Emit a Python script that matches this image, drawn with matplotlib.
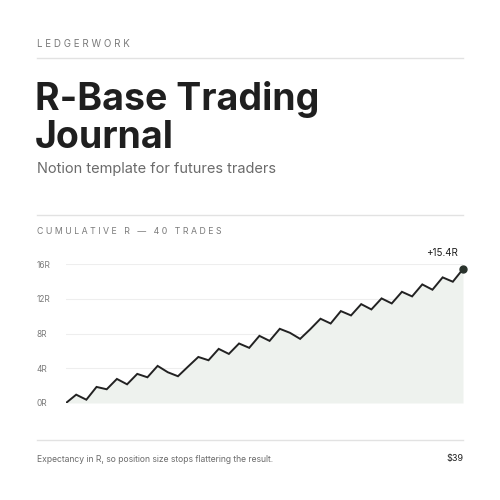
import matplotlib
matplotlib.use("Agg")
import matplotlib.pyplot as plt
from matplotlib.lines import Line2D

trades = list(range(40))
cum_r = [0, 0.96, 0.38, 1.85, 1.58, 2.77, 2.15, 3.35, 2.96, 4.27, 3.54, 3.08, 4.2, 5.3,
         4.92, 6.23, 5.65, 6.85, 6.35, 7.73, 7.15, 8.54, 8.08, 7.38, 8.5, 9.7, 9.15,
         10.58, 10.08, 11.38, 10.77, 12.04, 11.46, 12.8, 12.27, 13.65, 13.04, 14.46,
         13.96, 15.42]
yticks = [0, 4, 8, 12, 16]
ylabels = ["0R", "4R", "8R", "12R", "16R"]

plt.rcParams['font.family'] = ['Inter', 'DejaVu Sans']
fig = plt.figure(figsize=(5, 5), dpi=100)
fig.patch.set_facecolor("white")

def fx(px): return px / 500
def fy(py): return 1 - py / 500

dark = "#1f1f1f"
grey = "#6b6b6b"
rule = "#e2e2e2"

fig.text(fx(37), fy(44), "L E D G E R W O R K", fontsize=7, color="#7a7a7a", va="center")
for yy in (58, 215, 440):
    fig.add_artist(Line2D([fx(37), fx(463)], [fy(yy), fy(yy)], color=rule, lw=1))
fig.text(fx(35), fy(100), "R-Base Trading", fontsize=27, fontweight="bold", color=dark, va="center")
fig.text(fx(35), fy(138), "Journal", fontsize=27, fontweight="bold", color=dark, va="center")
fig.text(fx(37), fy(169), "Notion template for futures traders", fontsize=10.5, color=grey, va="center")
fig.text(fx(37), fy(232), "C U M U L A T I V E   R   —   4 0   T R A D E S", fontsize=6.3, color="#7a7a7a", va="center")
fig.text(fx(37), fy(459), "Expectancy in R, so position size stops flattering the result.", fontsize=6.2, color=grey, va="center")
fig.text(fx(463), fy(459), "$39", fontsize=6.5, color=dark, va="center", ha="right")

ax = fig.add_axes([fx(66), fy(403), fx(463) - fx(66), fy(264) - fy(403)])
ax.set_xlim(0, 39)
ax.set_ylim(0, 16)
ax.fill_between(trades, cum_r, 0, color="#eef2ee", lw=0)
ax.plot(trades, cum_r, color="#222222", lw=1.4, solid_joinstyle="miter")
ax.plot([trades[-1]], [cum_r[-1]], "o", color="#2a332d", ms=5, clip_on=False)
ax.annotate(f"+{cum_r[-1]:.1f}R", (trades[-1], cum_r[-1]), xytext=(-4, 8), textcoords="offset points",
            ha="right", va="bottom", fontsize=7, color=dark)
ax.set_yticks(yticks)
ax.set_yticklabels(ylabels, fontsize=6, color="#7a7a7a")
ax.tick_params(axis="y", length=0, pad=21)
for lab in ax.get_yticklabels():
    lab.set_horizontalalignment("left")
ax.set_xticks([])
ax.grid(axis="y", color="#eeeeee", lw=0.8)
ax.set_axisbelow(True)
for s in ax.spines.values():
    s.set_visible(False)

fig.savefig("out.png", dpi=100, facecolor="white")
